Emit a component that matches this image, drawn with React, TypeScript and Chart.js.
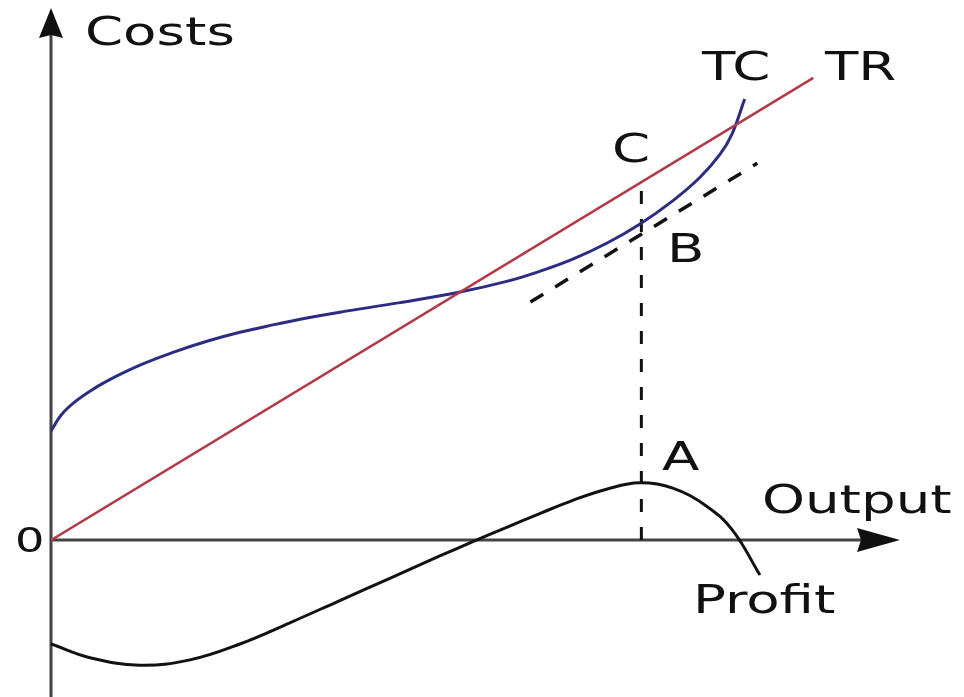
import React, { useEffect, useRef } from "react";
import { Chart, registerables } from "chart.js";

Chart.register(...registerables);

// Total revenue (straight line through the origin)
const trOutput = [0, 90];
const trCost = [0, 87.2];

// Total cost (cubic-shaped curve)
const tcOutput = [0, 1.2, 2.6, 4.5, 6.6, 10.5, 14.4, 18.4, 22.3, 26.2, 30.2, 34.1, 41.2, 48.3, 53.8, 57.7, 61.6, 65.6, 69.5, 73.4, 76.6, 79.0, 80.4, 81.9];
const tcCost = [20.6, 23.6, 25.8, 28.0, 30.0, 33.0, 35.4, 37.5, 39.2, 40.6, 41.9, 43.0, 44.8, 46.8, 48.8, 50.7, 53.0, 56.0, 59.6, 64.0, 68.4, 72.8, 76.6, 83.2];

// Profit curve
const profitOutput = [0, 4.6, 10.5, 16.4, 22.3, 28.2, 34.1, 40.0, 45.9, 49.8, 53.8, 57.7, 61.6, 65.6, 69.5, 73.4, 77.4, 80.5, 83.7];
const profitValue = [-19.6, -22.2, -23.6, -22.6, -19.6, -15.6, -11.4, -7.2, -3.0, -0.3, 2.4, 5.0, 7.5, 9.6, 10.8, 9.8, 6.4, 1.8, -6.6];

// Tangent to TC at B (parallel to TR)
const tangentOutput = [56.6, 83.4];
const tangentCost = [44.9, 71.1];

// Vertical dashed line through A, B, C
const dropOutput = [69.7, 69.7];
const dropCost = [0, 67.4];

const pts = (xs: number[], ys: number[]) => xs.map((x, i) => ({ x, y: ys[i] }));

const FONT = '"DejaVu Sans", Verdana, sans-serif';
const STRETCH = 1.4;

const labels = [
  { text: "Costs", x: 85, y: 45, size: 39 },
  { text: "TC", x: 702, y: 80, size: 39 },
  { text: "TR", x: 825, y: 80, size: 39 },
  { text: "C", x: 612, y: 162, size: 39 },
  { text: "B", x: 667, y: 262, size: 39 },
  { text: "A", x: 662, y: 470, size: 39 },
  { text: "Output", x: 762, y: 513, size: 39 },
  { text: "Profit", x: 693, y: 613, size: 39 },
  { text: "0", x: 15, y: 552, size: 33 },
];

const axesPlugin = {
  id: "axesPlugin",
  beforeDatasetsDraw(chart: any) {
    const ctx = chart.ctx;
    const xs = chart.scales.x;
    const ys = chart.scales.y;
    const ox = xs.getPixelForValue(0);
    const oy = ys.getPixelForValue(0);
    const H = chart.height;
    const right = chart.chartArea.right;
    ctx.save();
    ctx.strokeStyle = "#444";
    ctx.fillStyle = "#111";
    ctx.lineWidth = 3;
    // y axis
    ctx.beginPath();
    ctx.moveTo(ox, H);
    ctx.lineTo(ox, 30);
    ctx.stroke();
    ctx.beginPath();
    ctx.moveTo(ox, 8);
    ctx.lineTo(ox - 12, 38);
    ctx.lineTo(ox, 35);
    ctx.lineTo(ox + 12, 38);
    ctx.closePath();
    ctx.fill();
    // x axis
    ctx.beginPath();
    ctx.moveTo(ox, oy);
    ctx.lineTo(right - 30, oy);
    ctx.stroke();
    ctx.beginPath();
    ctx.moveTo(right + 2, oy);
    ctx.lineTo(right - 41, oy - 12);
    ctx.lineTo(right - 37, oy);
    ctx.lineTo(right - 41, oy + 12);
    ctx.closePath();
    ctx.fill();
    ctx.restore();
  },
  afterDatasetsDraw(chart: any) {
    const ctx = chart.ctx;
    ctx.save();
    ctx.fillStyle = "#111";
    ctx.textAlign = "left";
    ctx.textBaseline = "alphabetic";
    for (const l of labels) {
      ctx.save();
      ctx.font = `${l.size}px ${FONT}`;
      ctx.translate(l.x, l.y);
      ctx.scale(STRETCH, 1);
      ctx.fillText(l.text, 0, 0);
      ctx.restore();
    }
    ctx.restore();
  },
};

export default function App() {
  const ref = useRef<HTMLCanvasElement | null>(null);
  useEffect(() => {
    if (!ref.current) return;
    const chart = new Chart(ref.current, {
      type: "line",
      data: {
        datasets: [
          {
            label: "TR",
            data: pts(trOutput, trCost),
            borderColor: "#b23a48",
            borderWidth: 2.5,
            pointRadius: 0,
            fill: false,
          },
          {
            label: "TC",
            data: pts(tcOutput, tcCost),
            borderColor: "#2c2c82",
            borderWidth: 3,
            pointRadius: 0,
            tension: 0.4,
            fill: false,
          },
          {
            label: "Profit",
            data: pts(profitOutput, profitValue),
            borderColor: "#111",
            borderWidth: 3,
            pointRadius: 0,
            tension: 0.4,
            fill: false,
          },
          {
            label: "Tangent",
            data: pts(tangentOutput, tangentCost),
            borderColor: "#111",
            borderWidth: 3.5,
            borderDash: [15, 14],
            pointRadius: 0,
            fill: false,
          },
          {
            label: "Drop",
            data: pts(dropOutput, dropCost),
            borderColor: "#111",
            borderWidth: 3,
            borderDash: [13, 15],
            pointRadius: 0,
            fill: false,
          },
        ],
      },
      options: {
        animation: false,
        responsive: false,
        events: [],
        layout: { padding: { left: 51, right: 66, top: 10, bottom: 0 } },
        plugins: { legend: { display: false }, tooltip: { enabled: false }, title: { display: false } },
        scales: {
          x: { type: "linear", min: 0, max: 100, display: false },
          y: { type: "linear", min: -29.6, max: 100, display: false },
        },
      },
      plugins: [axesPlugin],
    });
    return () => chart.destroy();
  }, []);
  return (
    <div style={{ position: "fixed", left: 0, top: 0, width: 964, height: 697, background: "#fff" }}>
      <canvas ref={ref} width={964} height={697} style={{ display: "block" }} />
    </div>
  );
}
